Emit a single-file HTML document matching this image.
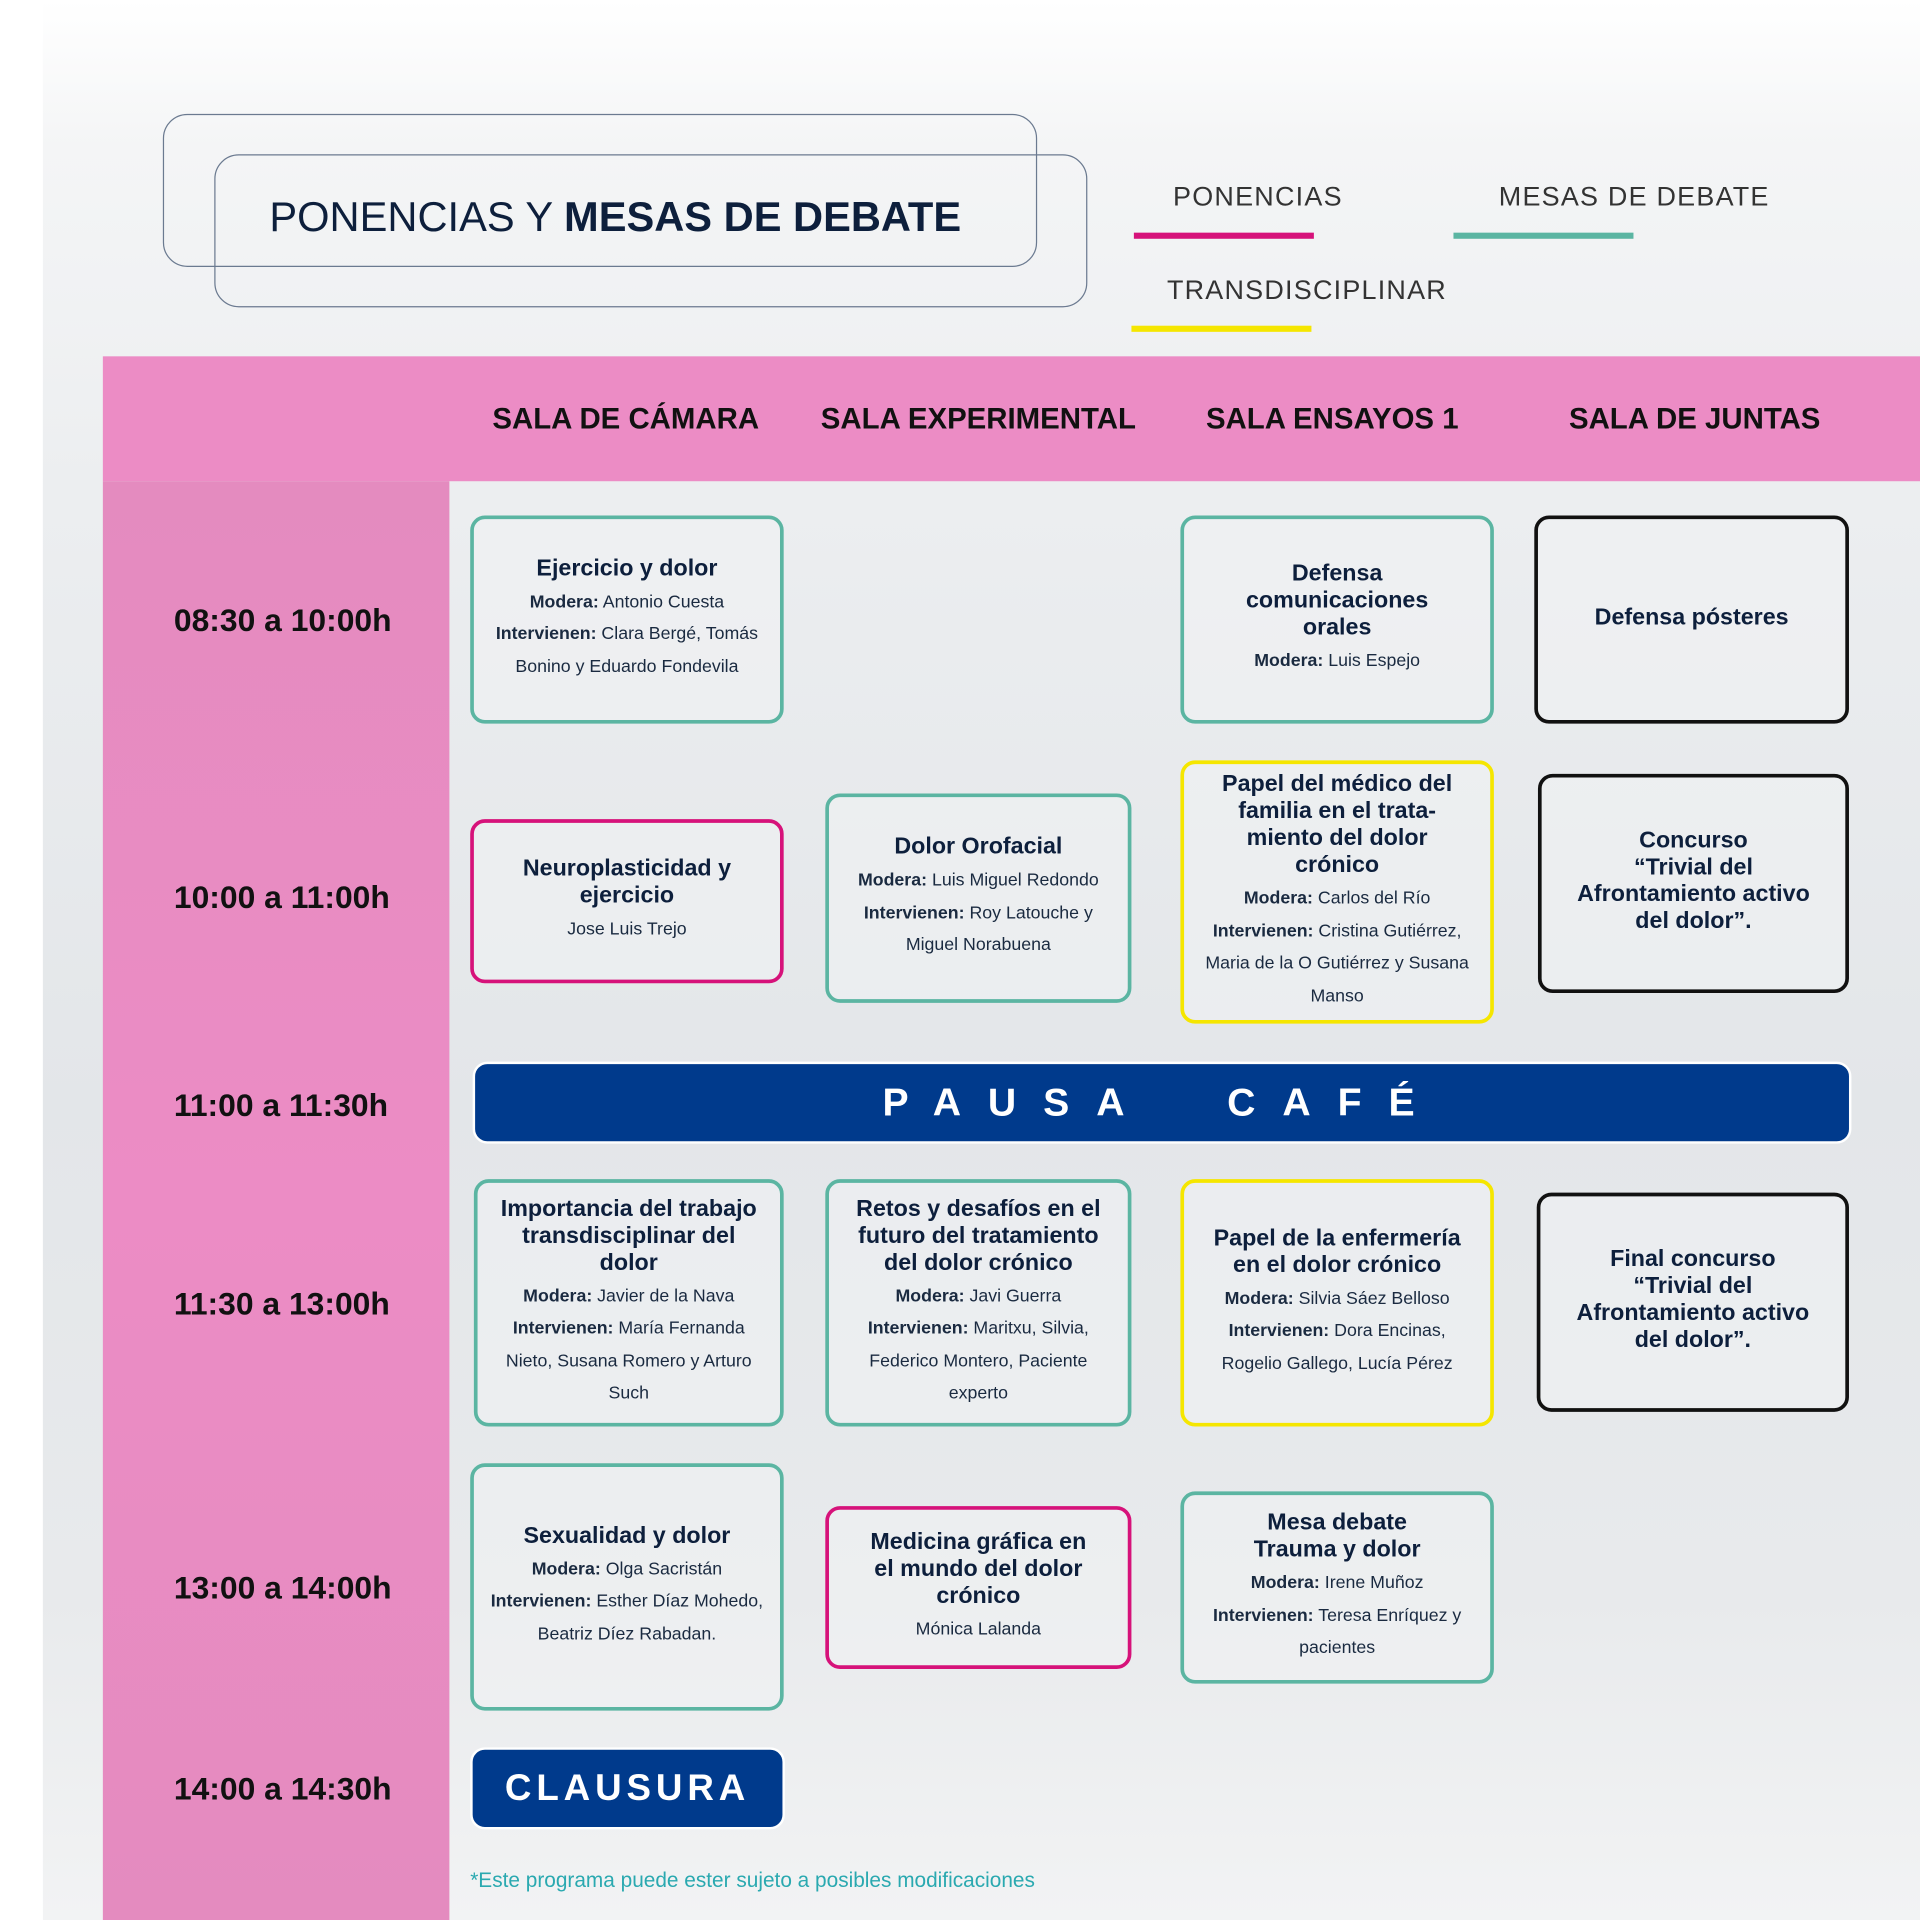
<!DOCTYPE html>
<html><head><meta charset="utf-8"><style>
*{margin:0;padding:0;box-sizing:border-box}
html,body{width:1920px;height:1920px;overflow:hidden;background:#fff}
#w{position:absolute;left:0;top:0;width:1568px;height:1568px;transform:scale(1.22449);transform-origin:0 0;font-family:"Liberation Sans",sans-serif;color:#0d1f3c;
background:linear-gradient(180deg,#fff 0,#f4f5f6 120px,#eceef0 400px,#e3e6e9 900px,#e8eaec 1300px,#f2f3f4 1568px)}
.ab{position:absolute}
.box{position:absolute;border:3px solid #5bb5a2;border-radius:12px;display:flex;flex-direction:column;justify-content:center;align-items:center;text-align:center;background:rgba(240,242,244,.55);padding:0 10px}
.t{font-weight:bold;font-size:19px;line-height:22px;margin-bottom:3px}
.b{font-size:14.5px;line-height:26.5px;color:#1a2a40}
.m{border-color:#d6127a}.y{border-color:#f5e600}.k{border-color:#111}
.time{position:absolute;left:142px;font-weight:bold;font-size:26px;color:#111;transform:translateY(-50%)}
.hd{position:absolute;top:343px;transform:translate(-50%,-50%);font-weight:bold;font-size:24px;color:#111;white-space:nowrap}
.lg{position:absolute;font-size:22px;color:#333;letter-spacing:1px;transform:translateY(-50%)}
.ul{position:absolute;height:5px}
</style></head><body><div id="w">
<div class="ab" style="left:0;top:0;width:35px;height:1568px;background:#fff"></div>
<div class="ab" style="left:133px;top:93px;width:714px;height:125px;border:1.5px solid #6b7a90;border-radius:20px"></div>
<div class="ab" style="left:175px;top:126px;width:713px;height:125px;border:1.5px solid #6b7a90;border-radius:20px"></div>
<div class="ab" style="left:220px;top:178px;transform:translateY(-50%);font-size:34px;color:#0d1f3c;white-space:nowrap">PONENCIAS Y <b>MESAS DE DEBATE</b></div>
<div class="lg" style="left:958px;top:161px">PONENCIAS</div>
<div class="ul" style="left:926px;top:190px;width:147px;background:#d6127a"></div>
<div class="lg" style="left:1224px;top:161px">MESAS DE DEBATE</div>
<div class="ul" style="left:1187px;top:190px;width:147px;background:#5bb5a2"></div>
<div class="lg" style="left:953px;top:237px">TRANSDISCIPLINAR</div>
<div class="ul" style="left:924px;top:266px;width:147px;background:#f5e600"></div>
<div class="ab" style="left:84px;top:291px;width:1484px;height:102px;background:#ec8cc5"></div>
<div class="ab" style="left:84px;top:393px;width:283px;height:1175px;background:linear-gradient(180deg,#e48bbf,#ec8cc5 50%,#e48bbf)"></div>
<div class="hd" style="left:511px">SALA DE CÁMARA</div>
<div class="hd" style="left:799px">SALA EXPERIMENTAL</div>
<div class="hd" style="left:1088px">SALA ENSAYOS 1</div>
<div class="hd" style="left:1384px">SALA DE JUNTAS</div>
<div class="time" style="top:507px">08:30 a 10:00h</div>
<div class="time" style="top:733px">10:00 a 11:00h</div>
<div class="time" style="top:903px">11:00 a 11:30h</div>
<div class="time" style="top:1065px">11:30 a 13:00h</div>
<div class="time" style="top:1297px">13:00 a 14:00h</div>
<div class="time" style="top:1461px">14:00 a 14:30h</div>

<div class="box" style="left:384px;top:421px;width:256px;height:170px"><div class="t">Ejercicio y dolor</div><div class="b"><b>Modera:</b> Antonio Cuesta<br><b>Intervienen:</b> Clara Bergé, Tomás Bonino y Eduardo Fondevila</div></div>
<div class="box" style="left:964px;top:421px;width:256px;height:170px"><div class="t">Defensa<br>comunicaciones<br>orales</div><div class="b"><b>Modera:</b> Luis Espejo</div></div>
<div class="box k" style="left:1253px;top:421px;width:257px;height:170px"><div class="t">Defensa pósteres</div></div>
<div class="box m" style="left:384px;top:669px;width:256px;height:134px"><div class="t">Neuroplasticidad y<br>ejercicio</div><div class="b">Jose Luis Trejo</div></div>
<div class="box" style="left:674px;top:648px;width:250px;height:171px"><div class="t">Dolor Orofacial</div><div class="b"><b>Modera:</b> Luis Miguel Redondo<br><b>Intervienen:</b> Roy Latouche y Miguel Norabuena</div></div>
<div class="box y" style="left:964px;top:621px;width:256px;height:215px"><div class="t">Papel del médico del<br>familia en el trata-<br>miento del dolor<br>crónico</div><div class="b"><b>Modera:</b> Carlos del Río<br><b>Intervienen:</b> Cristina Gutiérrez, Maria de la O Gutiérrez y Susana Manso</div></div>
<div class="box k" style="left:1256px;top:632px;width:254px;height:179px"><div class="t">Concurso<br>“Trivial del<br>Afrontamiento activo<br>del dolor”.</div></div>
<div class="ab" style="left:386px;top:867px;width:1126px;height:67px;background:#003a8c;border:2px solid #fff;border-radius:12px;color:#fff;font-weight:bold;font-size:32px;letter-spacing:22px;display:flex;align-items:center;justify-content:center">PAUSA&nbsp;&nbsp;CAFÉ</div>
<div class="box" style="left:387px;top:963px;width:253px;height:202px"><div class="t">Importancia del trabajo<br>transdisciplinar del<br>dolor</div><div class="b"><b>Modera:</b> Javier de la Nava<br><b>Intervienen:</b> María Fernanda Nieto, Susana Romero y Arturo Such</div></div>
<div class="box" style="left:674px;top:963px;width:250px;height:202px"><div class="t">Retos y desafíos en el<br>futuro del tratamiento<br>del dolor crónico</div><div class="b"><b>Modera:</b> Javi Guerra<br><b>Intervienen:</b> Maritxu, Silvia, Federico Montero, Paciente experto</div></div>
<div class="box y" style="left:964px;top:963px;width:256px;height:202px"><div class="t">Papel de la enfermería<br>en el dolor crónico</div><div class="b"><b>Modera:</b> Silvia Sáez Belloso<br><b>Intervienen:</b> Dora Encinas, Rogelio Gallego, Lucía Pérez</div></div>
<div class="box k" style="left:1255px;top:974px;width:255px;height:179px"><div class="t">Final concurso<br>“Trivial del<br>Afrontamiento activo<br>del dolor”.</div></div>
<div class="box" style="left:384px;top:1195px;width:256px;height:202px"><div class="t">Sexualidad y dolor</div><div class="b"><b>Modera:</b> Olga Sacristán<br><b>Intervienen:</b> Esther Díaz Mohedo, Beatriz Díez Rabadan.</div></div>
<div class="box m" style="left:674px;top:1230px;width:250px;height:133px"><div class="t">Medicina gráfica en<br>el mundo del dolor<br>crónico</div><div class="b">Mónica Lalanda</div></div>
<div class="box" style="left:964px;top:1218px;width:256px;height:157px"><div class="t">Mesa debate<br>Trauma y dolor</div><div class="b"><b>Modera:</b> Irene Muñoz<br><b>Intervienen:</b> Teresa Enríquez y pacientes</div></div>
<div class="ab" style="left:384px;top:1427px;width:257px;height:67px;background:#003a8c;border:2px solid #fff;border-radius:12px;color:#fff;font-weight:bold;font-size:30px;letter-spacing:4px;display:flex;align-items:center;justify-content:center">CLAUSURA</div>
<div class="ab" style="left:384px;top:1526px;font-size:17px;color:#2aa9b0">*Este programa puede ester sujeto a posibles modificaciones</div>
</div></body></html>
